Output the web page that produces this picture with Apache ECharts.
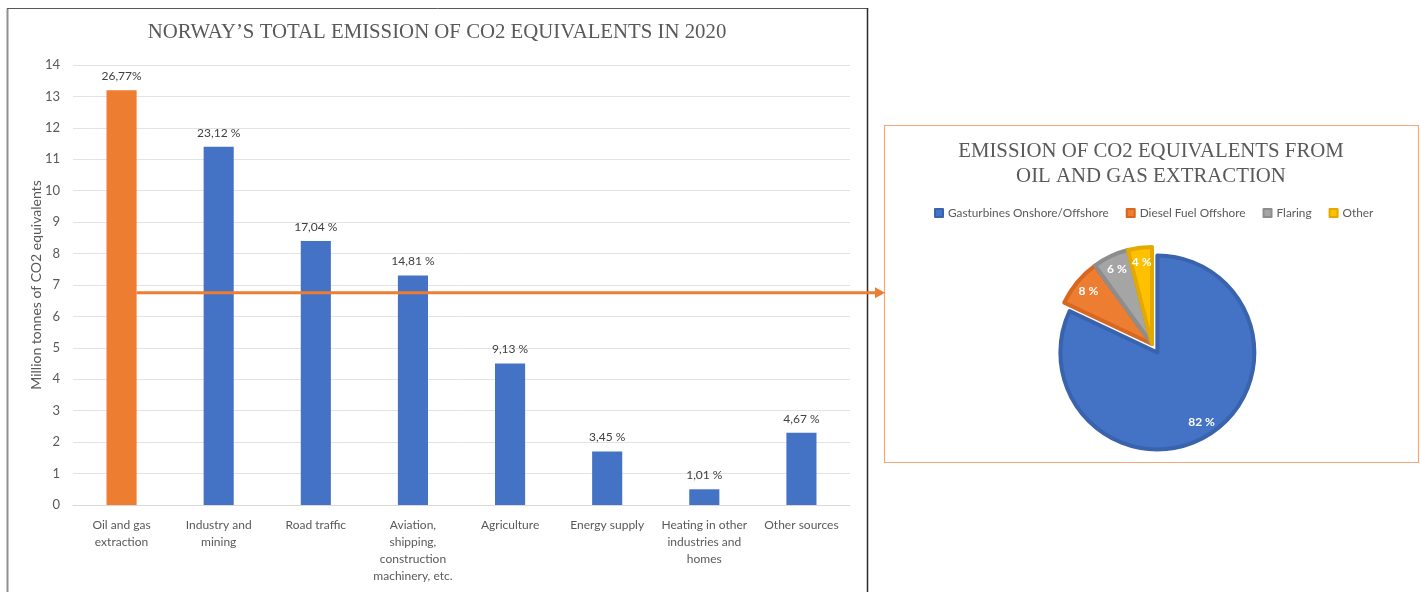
<!DOCTYPE html>
<html>
<head>
<meta charset="utf-8">
<script src="https://cdn.jsdelivr.net/npm/echarts@6/dist/echarts.min.js"></script>
<style>
  html, body { margin: 0; padding: 0; background: #ffffff; }
  #main { width: 1421px; height: 592px; }
</style>
</head>
<body>
<div id="main"></div>
<script>
// Emissions by source, million tonnes CO2 equivalents (2020)
const categories = [
  'Oil and gas\nextraction',
  'Industry and\nmining',
  'Road traffic',
  'Aviation,\nshipping,\nconstruction\nmachinery, etc.',
  'Agriculture',
  'Energy supply',
  'Heating in other\nindustries and\nhomes',
  'Other sources'
];
const emissions = [13.2, 11.4, 8.4, 7.3, 4.5, 1.7, 0.5, 2.3];
const shareLabels = ['26,77%', '23,12 %', '17,04 %', '14,81 %', '9,13 %', '3,45 %', '1,01 %', '4,67 %'];
const highlightIndex = 0;

// Breakdown of the oil and gas extraction share (percent)
const pieSources = ['Gasturbines Onshore/Offshore', 'Diesel Fuel Offshore', 'Flaring', 'Other'];
const pieShares = [82, 8, 6, 4];

// Level (million tonnes) at which the pointer leaves the highlighted bar
const pointerLevel = 6.75;

const BLUE = '#4472c4', ORANGE = '#ed7d31';
const pieFill = ['#4472c4', '#ed7d31', '#a5a5a5', '#ffc000'];
const pieEdge = ['#3a63ad', '#d8671f', '#8d8d8d', '#e3a900'];
const TEXT = '#595959';
const SANS = 'Lato, "Open Sans", sans-serif';
const SERIF = '"Liberation Serif", "DejaVu Serif", serif';

const chart = echarts.init(document.getElementById('main'), null, { renderer: 'canvas' });

const pieCenter = [1152, 344];
const pieRadius = 97;

const option = {
  animation: false,
  backgroundColor: '#ffffff',
  grid: { left: 73, right: 571, top: 65, bottom: 87, containLabel: false },
  xAxis: {
    type: 'category',
    data: categories,
    axisLine: { show: true, lineStyle: { color: '#d9d9d9', width: 1 } },
    axisTick: { show: false },
    axisLabel: {
      interval: 0,
      color: TEXT,
      fontFamily: SANS,
      fontSize: 12,
      lineHeight: 17,
      margin: 12
    }
  },
  yAxis: {
    type: 'value',
    min: 0,
    max: 14,
    interval: 1,
    name: 'Million tonnes of CO2 equivalents',
    nameLocation: 'middle',
    nameGap: 30,
    nameMoveOverlap: false,
    nameTextStyle: { color: TEXT, fontFamily: SANS, fontSize: 14 },
    axisLine: { show: false },
    axisTick: { show: false },
    axisLabel: { color: TEXT, fontFamily: SANS, fontSize: 13, margin: 13 },
    splitLine: { lineStyle: { color: '#e3e3e3', width: 1 } }
  },
  legend: {
    data: pieSources,
    left: 929,
    top: 202,
    icon: 'rect',
    itemWidth: 8,
    itemHeight: 8,
    itemGap: 17,
    textStyle: { color: TEXT, fontFamily: SANS, fontSize: 11.8 },
    selectedMode: false
  },
  series: [
    {
      type: 'bar',
      data: emissions.map((v, i) => ({
        value: v,
        itemStyle: { color: i === highlightIndex ? ORANGE : BLUE }
      })),
      barWidth: '31%',
      label: {
        show: true,
        position: 'top',
        distance: 8,
        color: '#404040',
        fontFamily: SANS,
        fontSize: 12,
        formatter: p => shareLabels[p.dataIndex]
      },
      emphasis: { disabled: true }
    },
    {
      type: 'pie',
      center: pieCenter,
      radius: [0, pieRadius],
      startAngle: 90,
      clockwise: true,
      selectedMode: 'single',
      selectedOffset: 10,
      data: pieSources.map((name, i) => ({
        name: name,
        value: pieShares[i],
        selected: i === 0,
        itemStyle: { color: pieFill[i], borderColor: pieEdge[i], borderWidth: 4 }
      })),
      label: { show: false },
      labelLine: { show: false },
      emphasis: { disabled: true },
      silent: true
    },
    {
      // transparent ring that only carries the percentage labels near the rim
      type: 'pie',
      center: pieCenter,
      radius: [62, pieRadius],
      startAngle: 90,
      clockwise: true,
      selectedMode: 'single',
      selectedOffset: 10,
      data: pieSources.map((name, i) => ({
        name: name,
        value: pieShares[i],
        selected: i === 0,
        itemStyle: { color: 'rgba(0,0,0,0)', borderWidth: 0 }
      })),
      label: {
        show: true,
        position: 'inside',
        formatter: '{c} %',
        color: '#ffffff',
        fontFamily: SANS,
        fontWeight: 'bold',
        fontSize: 12
      },
      labelLine: { show: false },
      emphasis: { disabled: true },
      silent: true,
      z: 3
    }
  ]
};

chart.setOption(option);

// Frames, titles and the pointer from the highlighted bar to the breakdown panel
const barTop = chart.convertToPixel({ xAxisIndex: 0, yAxisIndex: 0 }, [highlightIndex, pointerLevel]);
const bandWidth = (1421 - 73 - 571) / categories.length;
const pointerStartX = barTop[0] + bandWidth * 0.31 / 2;
const pointerY = barTop[1];
const pointerTipX = 885;

chart.setOption({
  graphic: [
    // left chart frame
    { type: 'line', shape: { x1: 7.5, y1: 8.5, x2: 7.5, y2: 600 }, style: { stroke: '#8f8f8f', lineWidth: 2 }, silent: true },
    { type: 'line', shape: { x1: 7, y1: 8.5, x2: 867.5, y2: 8.5 }, style: { stroke: '#595959', lineWidth: 1 }, silent: true },
    { type: 'line', shape: { x1: 867.5, y1: 8, x2: 867.5, y2: 600 }, style: { stroke: '#2b2b2b', lineWidth: 1.5 }, silent: true },
    // breakdown panel frame
    { type: 'rect', shape: { x: 884.5, y: 125.5, width: 534, height: 337 }, style: { fill: 'none', stroke: '#f4a777', lineWidth: 1.2 }, silent: true },
    // titles
    {
      type: 'text', x: 437, y: 33,
      style: { text: 'NORWAY\u2019S TOTAL EMISSION OF CO2 EQUIVALENTS IN 2020', fill: TEXT, font: '20.8px ' + SERIF, align: 'center', verticalAlign: 'middle' },
      silent: true
    },
    {
      type: 'text', x: 1151, y: 152,
      style: { text: 'EMISSION OF CO2 EQUIVALENTS FROM', fill: TEXT, font: '20.8px ' + SERIF, align: 'center', verticalAlign: 'middle' },
      silent: true
    },
    {
      type: 'text', x: 1151, y: 177,
      style: { text: 'OIL AND GAS EXTRACTION', fill: TEXT, font: '20.8px ' + SERIF, align: 'center', verticalAlign: 'middle' },
      silent: true
    },
    // pointer arrow
    {
      type: 'line', z: 10,
      shape: { x1: pointerStartX, y1: pointerY, x2: pointerTipX - 8, y2: pointerY },
      style: { stroke: ORANGE, lineWidth: 3 }, silent: true
    },
    {
      type: 'polygon', z: 10,
      shape: { points: [[pointerTipX - 10, pointerY - 5.5], [pointerTipX, pointerY], [pointerTipX - 10, pointerY + 5.5]] },
      style: { fill: ORANGE }, silent: true
    }
  ]
});
</script>
</body>
</html>
